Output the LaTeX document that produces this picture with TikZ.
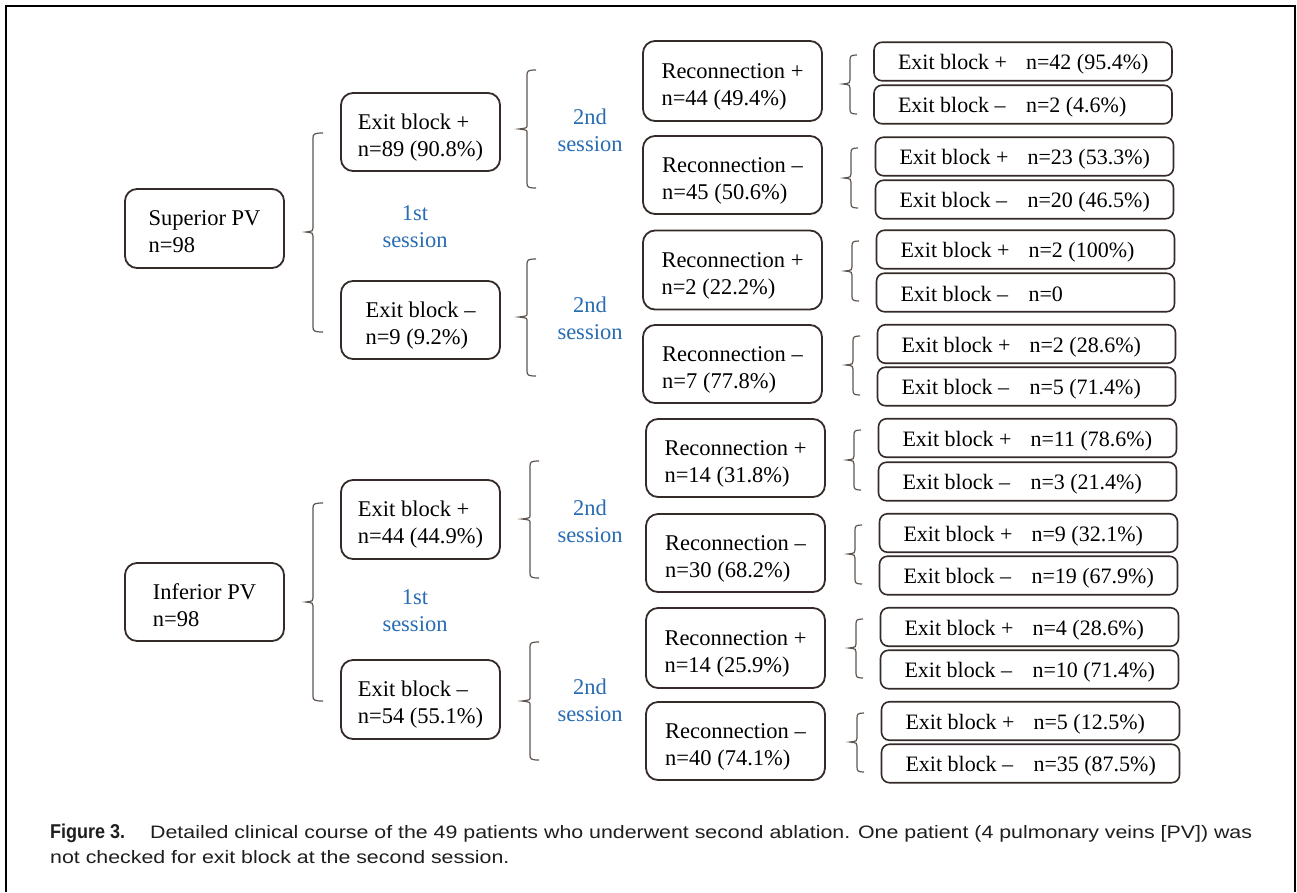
\documentclass[tikz,border=0pt]{standalone}
\usepackage{fontspec}
\usepackage{graphicx}
\setmainfont{Liberation Serif}
\newfontfamily\capfont{Liberation Sans}
\definecolor{boxc}{RGB}{52,42,40}
\definecolor{brc}{RGB}{95,85,80}
\definecolor{sess}{RGB}{40,108,178}
\definecolor{capc}{RGB}{30,30,30}
\tikzset{
  big/.style={draw=boxc, line width=1.8pt, rounded corners=12pt,
    font=\fontsize{22.5}{27}\selectfont, inner sep=0pt,
    minimum width=159pt, minimum height=79pt},
  rec/.style={big, minimum width=179pt},
  ebx/.style={draw=boxc, line width=1.6pt, rounded corners=8pt,
    font=\fontsize{22}{26}\selectfont, inner xsep=24pt, inner ysep=0pt,
    minimum height=38.5pt},
  sesslbl/.style={text=sess, align=center, font=\fontsize{22.5}{27}\selectfont, inner sep=0pt},
  brline/.style={draw=brc, line width=1.2pt},
  captxt/.style={anchor=base west, inner sep=0pt, text=capc}
}
\newcommand\twol[2]{\begin{tabular}{@{}l@{}}\rule{0pt}{30pt}#1\\#2\end{tabular}}
\newcommand\ebtext[2]{\rule[-4pt]{0pt}{25pt}\makebox[250pt][l]{\makebox[128pt][l]{#1}#2}}
% x, ytop, ymid, ybot, hook, tip
\newcommand\drawbrace[6]{%
  \draw[brline] ({#1+#5},#2) .. controls ({#1+1},#2) and (#1,{#2+1}) .. (#1,{#2+5})
    -- (#1,{#3-4}) .. controls (#1,{#3-1}) .. ({#1-#6},#3)
    .. controls (#1,{#3+1}) .. (#1,{#3+4})
    -- (#1,{#4-5}) .. controls (#1,{#4-1}) and ({#1+1},#4) .. ({#1+#5},#4);}
\newcommand\capone{Detailed clinical course of the 49 patients who underwent second ablation. One patient (4 pulmonary veins [PV]) was}
\newcommand\captwo{not checked for exit block at the second session.}
\newlength\capw
\newsavebox\capbox
\begin{document}
\sbox\capbox{\capfont\fontsize{18}{18}\selectfont\capone}%
\setlength\capw{\wd\capbox}%
\pgfmathsetmacro\capsx{1102/\capw}%
\begin{tikzpicture}[x=1pt,y=-1pt]
\useasboundingbox (0,0) rectangle (1297,892);
\fill[white] (0,0) rectangle (1297,892);
% frame
\draw[line width=2.2pt, black] (6,892) -- (6,6) -- (1295,6) -- (1295,892);

% level 0
\node[big] (sup) at (204.5,228.5) {\twol{Superior PV}{n=98}};
\node[big, minimum height=78pt] (inf) at (204.5,602) {\twol{Inferior PV}{n=98}};

% level 1
\node[big, minimum height=78pt] (s1p) at (420.5,132) {\twol{Exit block +}{n=89 (90.8\%)}};
\node[big, minimum height=78pt] (s1m) at (420.5,320) {\twol{Exit block –}{n=9 (9.2\%)}};
\node[big] (i1p) at (420.5,519.5) {\twol{Exit block +}{n=44 (44.9\%)}};
\node[big] (i1m) at (420.5,699.5) {\twol{Exit block –}{n=54 (55.1\%)}};

\node[sesslbl] (l1s) at (415,227) {1st\\session};
\node[sesslbl] (l1i) at (415,611) {1st\\session};
\node[sesslbl] (l2a) at (590,130) {2nd\\session};
\node[sesslbl] (l2b) at (590,318) {2nd\\session};
\node[sesslbl] (l2c) at (590,521) {2nd\\session};
\node[sesslbl] (l2d) at (590,700) {2nd\\session};

% level 2
\node[rec, minimum height=80pt] (r1) at (732.5,81) {\twol{Reconnection +}{n=44 (49.4\%)}};
\node[rec, minimum height=78pt] (r2) at (732.5,175) {\twol{Reconnection –}{n=45 (50.6\%)}};
\node[rec, minimum height=79pt] (r3) at (732.5,270) {\twol{Reconnection +}{n=2 (22.2\%)}};
\node[rec, minimum height=78pt] (r4) at (732.5,364) {\twol{Reconnection –}{n=7 (77.8\%)}};
\node[rec, minimum height=78pt] (r5) at (735.5,458) {\twol{Reconnection +}{n=14 (31.8\%)}};
\node[rec, minimum height=78pt] (r6) at (735.5,553) {\twol{Reconnection –}{n=30 (68.2\%)}};
\node[rec, minimum height=80pt] (r7) at (735.5,648) {\twol{Reconnection +}{n=14 (25.9\%)}};
\node[rec, minimum height=78pt] (r8) at (735.5,741) {\twol{Reconnection –}{n=40 (74.1\%)}};

% level 3
\node[ebx] (e1) at (1023,61.5) {\ebtext{Exit block +}{n=42 (95.4\%)}};
\node[ebx] (e2) at (1023,104.5) {\ebtext{Exit block –}{n=2 (4.6\%)}};
\node[ebx] (e3) at (1024.5,156.5) {\ebtext{Exit block +}{n=23 (53.3\%)}};
\node[ebx] (e4) at (1024.5,199.5) {\ebtext{Exit block –}{n=20 (46.5\%)}};
\node[ebx] (e5) at (1025.5,249.5) {\ebtext{Exit block +}{n=2 (100\%)}};
\node[ebx] (e6) at (1025.5,292.5) {\ebtext{Exit block –}{n=0}};
\node[ebx] (e7) at (1026.5,344) {\ebtext{Exit block +}{n=2 (28.6\%)}};
\node[ebx] (e8) at (1026.5,386.5) {\ebtext{Exit block –}{n=5 (71.4\%)}};
\node[ebx] (e9) at (1027.5,438) {\ebtext{Exit block +}{n=11 (78.6\%)}};
\node[ebx] (e10) at (1027.5,481.5) {\ebtext{Exit block –}{n=3 (21.4\%)}};
\node[ebx] (e11) at (1028.5,533) {\ebtext{Exit block +}{n=9 (32.1\%)}};
\node[ebx] (e12) at (1028.5,575.5) {\ebtext{Exit block –}{n=19 (67.9\%)}};
\node[ebx] (e13) at (1029.5,627) {\ebtext{Exit block +}{n=4 (28.6\%)}};
\node[ebx] (e14) at (1029.5,669.5) {\ebtext{Exit block –}{n=10 (71.4\%)}};
\node[ebx] (e15) at (1030.5,721) {\ebtext{Exit block +}{n=5 (12.5\%)}};
\node[ebx] (e16) at (1030.5,763.5) {\ebtext{Exit block –}{n=35 (87.5\%)}};

% braces: 1st session
\drawbrace{313}{133}{232}{332}{10}{7}
\drawbrace{313}{503}{602}{701}{10}{7}
% braces: 2nd session
\drawbrace{527}{70}{129}{188}{9}{8}
\drawbrace{527}{259}{317}{376}{9}{8}
\drawbrace{530}{461}{519}{578}{9}{8}
\drawbrace{530}{642}{701}{760}{9}{8}
% braces: exit block at 2nd session
\drawbrace{850}{55}{84}{114}{7}{7}
\drawbrace{851}{148}{178}{208}{7}{7}
\drawbrace{852}{241}{271}{301}{7}{7}
\drawbrace{853}{336}{365}{395}{7}{7}
\drawbrace{854}{430}{460}{490}{7}{7}
\drawbrace{855}{525}{554}{584}{7}{7}
\drawbrace{856}{619}{648}{678}{7}{7}
\drawbrace{857}{713}{742}{772}{7}{7}

% caption
\node[captxt, font=\capfont\bfseries\fontsize{20}{20}\selectfont] (figlbl) at (50,838)
  {\resizebox{75pt}{\height}{Figure 3.}};
\node[captxt, font=\capfont\fontsize{18}{18}\selectfont] (cap1) at (150,838)
  {\scalebox{\capsx}[1]{\capone}};
\node[captxt, font=\capfont\fontsize{18}{18}\selectfont] (cap2) at (50,863)
  {\scalebox{\capsx}[1]{\captwo}};
\end{tikzpicture}
\end{document}
